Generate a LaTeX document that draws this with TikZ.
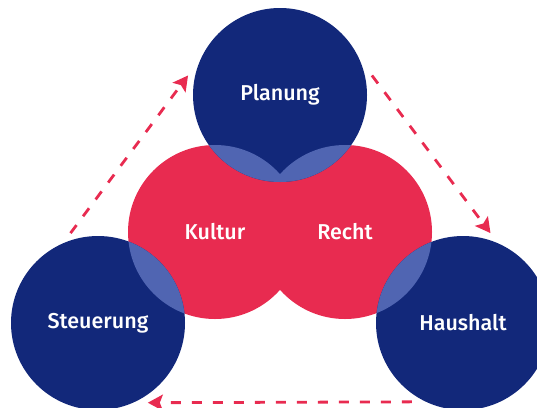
\documentclass[tikz,border=0pt]{standalone}
\usepackage{fontspec}
\newfontfamily\lblfont{Fira Sans}[UprightFont={* Medium}]
\usetikzlibrary{arrows.meta}
\definecolor{navy}{HTML}{12287A}
\definecolor{rosered}{HTML}{E82B50}
\definecolor{paleblue}{HTML}{5065B2}
\tikzset{
  blob/.style={circle, minimum size=174pt, inner sep=0pt, outer sep=7pt,
    text=white, font=\lblfont\fontsize{21.5}{25}\selectfont},
  bluedisc/.style={blob, fill=navy},
  reddisc/.style={blob, fill=rosered},
  flow/.style={draw=rosered, line width=2.8pt, dash pattern=on 10pt off 11pt,
    -{Stealth[length=15pt,width=16pt,inset=3pt]}}
}
\begin{document}
\begin{tikzpicture}[x=1pt,y=-1pt]
\useasboundingbox (0,0) rectangle (537,407);
% red middle pair
\node[reddisc] (K) at (215,232) {};
\node[reddisc] (R) at (345,232) {};
% blue outer trio
\node[bluedisc] (P) at (280,95) {};
\node[bluedisc] (S) at (98,323) {};
\node[bluedisc] (H) at (463,323) {};
% lighter overlaps
\begin{scope}
  \clip (280,95) circle (87);
  \fill[paleblue] (215,232) circle (87) (345,232) circle (87);
\end{scope}
\begin{scope}
  \clip (98,323) circle (87);
  \fill[paleblue] (215,232) circle (87);
\end{scope}
\begin{scope}
  \clip (463,323) circle (87);
  \fill[paleblue] (345,232) circle (87);
\end{scope}
% labels
\node[blob] at (P) {Planung};
\node[blob] at (K) {Kultur};
\node[blob] at (R) {Recht};
\node[blob] at (S) {Steuerung};
\node[blob] at (H) {Haushalt};
% cycle arrows
\draw[flow] (S.107.7) -- (P.168.3);
\draw[flow] (P.12.1) -- (H.73.3);
\draw[flow] (H.237.2) -- (S.302.8);
\end{tikzpicture}
\end{document}
